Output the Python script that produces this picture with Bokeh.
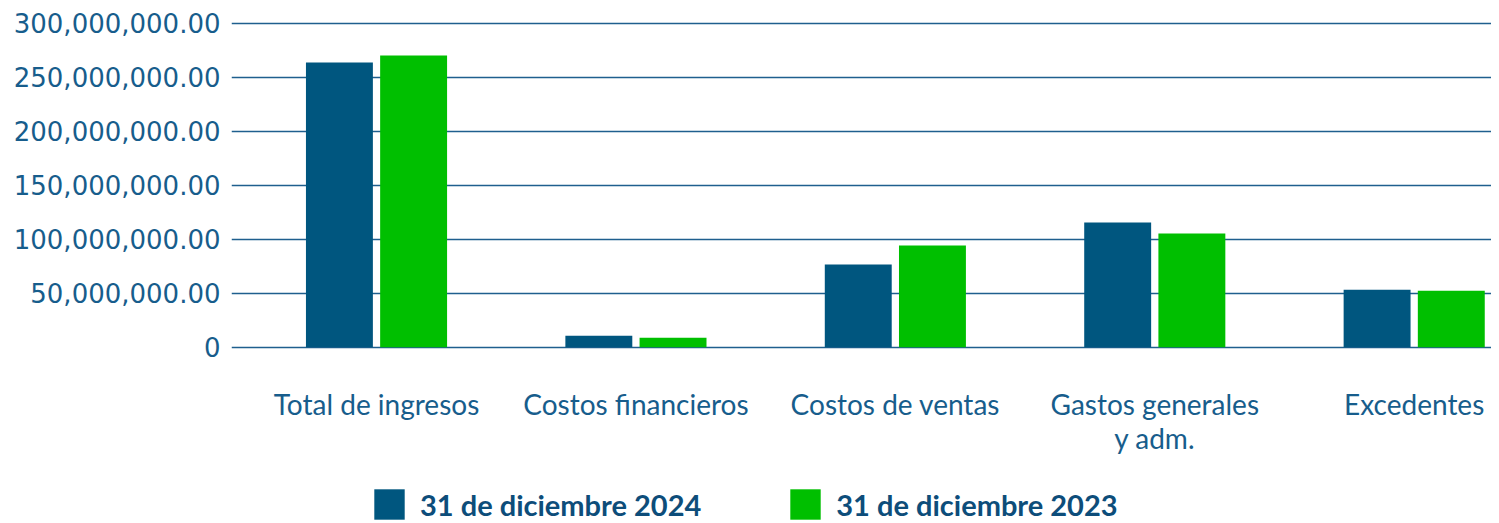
from bokeh.plotting import figure
from bokeh.models import (Range1d, FixedTicker, NumeralTickFormatter, Legend, LegendItem,
                          ColumnDataSource)
from bokeh.embed import file_html
from bokeh.resources import INLINE

categories = ["Total de ingresos", "Costos financieros", "Costos de ventas",
              "Gastos generales\ny adm.", "Excedentes"]
values_2024 = [263_600_000, 10_800_000, 76_600_000, 115_500_000, 53_400_000]
values_2023 = [270_100_000, 9_000_000, 94_200_000, 105_300_000, 52_500_000]
series_labels = ["31 de diciembre 2024", "31 de diciembre 2023"]
y_ticks = [0, 50_000_000, 100_000_000, 150_000_000, 200_000_000, 250_000_000, 300_000_000]

BLUE = "#00567f"
GREEN = "#00bf00"
TEXT = "#175d8c"

idx = list(range(len(categories)))
bar_w = 0.258
off = 0.143

src = ColumnDataSource(dict(
    x1=[i - off for i in idx], x2=[i + off for i in idx],
    v1=values_2024, v2=values_2023,
))

p = figure(width=1491, height=523, output_backend="svg", toolbar_location=None,
           x_range=Range1d(-0.559, 4.298), y_range=Range1d(-163_000_000, 304_350_000),
           min_border_left=231, min_border_right=0, min_border_top=18, min_border_bottom=0)
p.outline_line_color = None
p.background_fill_color = "white"

r1 = p.vbar(x="x1", top="v1", bottom=0, width=bar_w, source=src, fill_color=BLUE, line_color=None)
r2 = p.vbar(x="x2", top="v2", bottom=0, width=bar_w, source=src, fill_color=GREEN, line_color=None)

# y axis
p.yaxis.ticker = FixedTicker(ticks=y_ticks)
p.yaxis.formatter = NumeralTickFormatter(format="0,0.00")
p.yaxis.major_label_overrides = {0: "0"}
p.yaxis.axis_line_color = None
p.yaxis.major_tick_line_color = None
p.yaxis.minor_tick_line_color = None
p.yaxis.major_tick_out = 0
p.yaxis.major_tick_in = 0
p.yaxis.major_label_standoff = 11
p.yaxis.major_label_text_font = "DejaVu Sans"
p.yaxis.major_label_text_font_size = "26px"
p.yaxis.major_label_text_color = TEXT

# x axis, drawn at the zero line
p.xaxis.fixed_location = 0
p.xaxis.ticker = FixedTicker(ticks=idx)
p.xaxis.major_label_overrides = {i: c for i, c in zip(idx, categories)}
p.xaxis.axis_line_color = None
p.xaxis.major_tick_line_color = None
p.xaxis.minor_tick_line_color = None
p.xaxis.major_tick_out = 0
p.xaxis.major_tick_in = 0
p.xaxis.major_label_standoff = 40
p.xaxis.major_label_text_font = "Lato"
p.xaxis.major_label_text_font_size = "28px"
p.xaxis.major_label_text_line_height = 1.0
p.xaxis.major_label_text_color = TEXT

p.xgrid.grid_line_color = None
p.ygrid.ticker = FixedTicker(ticks=y_ticks)
p.ygrid.grid_line_color = "#1f5f8e"
p.ygrid.grid_line_width = 1.5

legend = Legend(items=[LegendItem(label=series_labels[0], renderers=[r1]),
                       LegendItem(label=series_labels[1], renderers=[r2])],
                orientation="horizontal", location=(139, 0),
                glyph_width=38, glyph_height=38, label_standoff=12, spacing=85,
                padding=0, margin=0, border_line_color=None, background_fill_alpha=0,
                label_text_font="Lato", label_text_font_style="bold",
                label_text_font_size="29px", label_text_color="#0d4d7a")
p.add_layout(legend, "center")

open("out.html", "w").write(file_html(p, INLINE))
